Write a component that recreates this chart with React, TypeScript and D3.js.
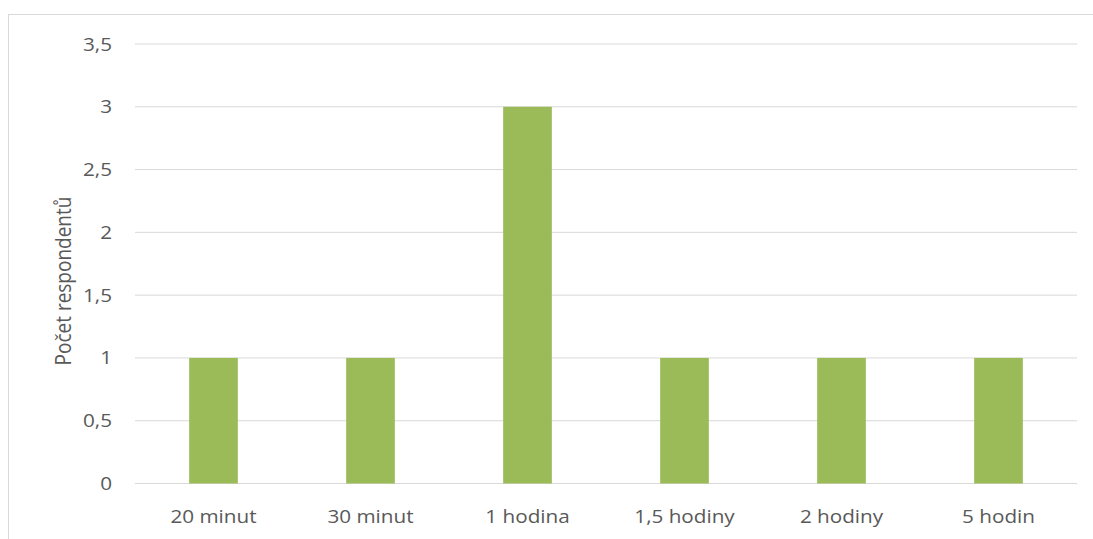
import * as d3 from 'd3'

const categories = ['20 minut', '30 minut', '1 hodina', '1,5 hodiny', '2 hodiny', '5 hodin']
const values = [1, 1, 3, 1, 1, 1]
const yTicks = [0, 0.5, 1, 1.5, 2, 2.5, 3, 3.5]

const W = 1093
const H = 539
const plot = { left: 135, right: 1077, top: 44, bottom: 483.5 }
// the source picture is stretched sideways a little, text included
const stretch = 1.15

export default function App() {
  const x = d3.scaleBand<string>().domain(categories).range([plot.left, plot.right]).padding(0)
  const y = d3.scaleLinear().domain([0, 3.5]).range([plot.bottom, plot.top])
  const barW = x.step() * 0.31
  const fmt = (v: number) => String(v).replace('.', ',')

  return (
    <svg
      width={W}
      height={H}
      style={{ position: 'absolute', left: 0, top: 0, background: '#fff' }}
      fontFamily="'Open Sans', 'Noto Sans', sans-serif"
    >
      <rect x={8.5} y={14.5} width={W + 20} height={H + 20} fill="#fff" stroke="#d9d9d9" strokeWidth={1} />
      {yTicks.map((t) => (
        <g key={t}>
          <line x1={plot.left} x2={plot.right} y1={y(t)} y2={y(t)} stroke="#d9d9d9" strokeWidth={1} />
          <text
            transform={`translate(112, ${y(t) + 6.5}) scale(${stretch}, 1)`}
            textAnchor="end"
            fontSize={18}
            fill="#595959"
          >
            {fmt(t)}
          </text>
        </g>
      ))}
      {categories.map((c, i) => (
        <g key={c}>
          <rect
            x={(x(c) ?? 0) + x.bandwidth() / 2 - barW / 2}
            y={y(values[i])}
            width={barW}
            height={y(0) - y(values[i])}
            fill="#9bbb59"
          />
          <text
            transform={`translate(${(x(c) ?? 0) + x.bandwidth() / 2}, 523) scale(${stretch}, 1)`}
            textAnchor="middle"
            fontSize={18}
            fill="#595959"
          >
            {c}
          </text>
        </g>
      ))}
      <text
        transform={`translate(62, 281) rotate(-90) scale(1, ${stretch})`}
        textAnchor="middle"
        dominantBaseline="central"
        fontSize={19}
        fill="#595959"
      >
        Počet respondentů
      </text>
    </svg>
  )
}
